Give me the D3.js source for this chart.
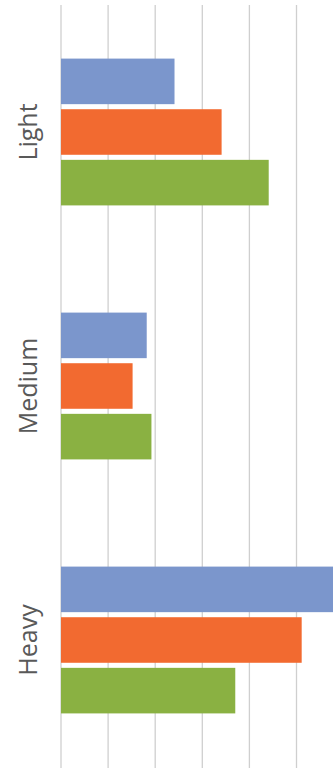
<!DOCTYPE html>
<html>
<head>
<meta charset="utf-8">
<script src="https://cdn.jsdelivr.net/npm/d3@7"></script>
<style>
  html, body { margin: 0; padding: 0; background: #fff; overflow: hidden; }
  svg { display: block; }
</style>
</head>
<body>
<svg id="chart" width="333" height="768"></svg>
<script>
// Load categories and the three series
const categories = ["Light", "Medium", "Heavy"];
const seriesNames = ["Series 1", "Series 2", "Series 3"];
const series1 = [24.1, 18.2, 62];
const series2 = [34.1, 15.2, 51.1];
const series3 = [44.1, 19.2, 37.0];
const tickValues = [0, 10, 20, 30, 40, 50, 60];
const colors = ["#7B96CC", "#F26A30", "#8AB142"];

const W = 333, H = 768;
const margin = { top: 5, right: -10, bottom: 1, left: 61 };
const innerW = W - margin.left - margin.right;
const innerH = H - margin.top - margin.bottom;

const svg = d3.select("#chart");
const g = svg.append("g").attr("transform", `translate(${margin.left},${margin.top})`);

const x = d3.scaleLinear().domain([0, 60]).range([0, 47.1 * 6]);
const y = d3.scaleBand().domain(categories).range([0, innerH]).paddingInner(0.422).paddingOuter(0.211);
const ySub = d3.scaleBand().domain(seriesNames).range([0, y.bandwidth()]).paddingInner(0.1);

// Vertical gridlines
g.append("g")
  .selectAll("line")
  .data(tickValues)
  .join("line")
  .attr("x1", d => x(d)).attr("x2", d => x(d))
  .attr("y1", 0).attr("y2", innerH + 2)
  .attr("stroke", "#cfcfcf")
  .attr("stroke-width", 1.3);

const rows = categories.map((c, i) => ({
  cat: c,
  vals: [series1[i], series2[i], series3[i]]
}));

const groups = g.selectAll(".grp")
  .data(rows)
  .join("g")
  .attr("class", "grp")
  .attr("transform", d => `translate(0,${y(d.cat)})`);

groups.selectAll("rect")
  .data(d => d.vals.map((v, j) => ({ v, s: seriesNames[j], j })))
  .join("rect")
  .attr("x", x(0))
  .attr("y", d => ySub(d.s))
  .attr("width", d => x(d.v) - x(0))
  .attr("height", ySub.bandwidth())
  .attr("fill", d => colors[d.j]);

// Category labels, rotated along the left side
g.selectAll(".cat")
  .data(categories)
  .join("text")
  .attr("class", "cat")
  .attr("transform", d => `translate(-24,${y(d) + y.bandwidth() / 2}) rotate(-90)`)
  .attr("text-anchor", "middle")
  .attr("fill", "#595959")
  .style("font-family", "'Open Sans', sans-serif")
  .style("font-size", "25px")
  .text(d => d);
</script>
</body>
</html>
